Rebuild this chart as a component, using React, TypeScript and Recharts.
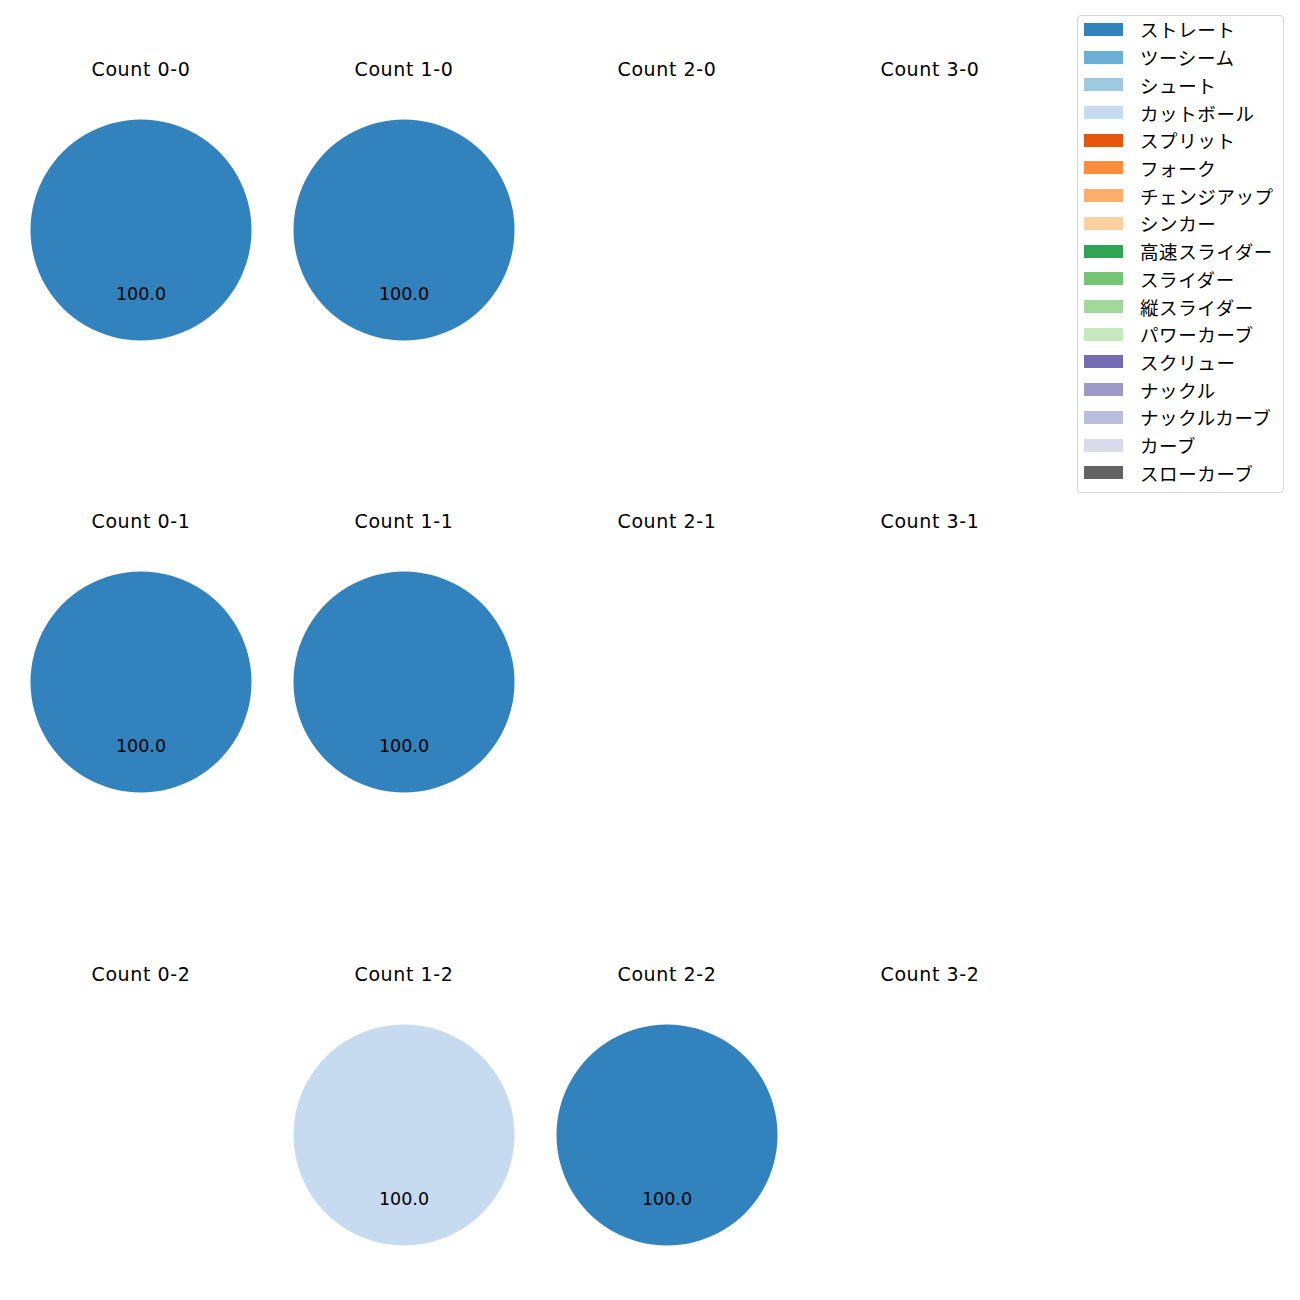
import { PieChart, Pie, Cell } from "recharts"

// pitch types in legend order, with tab20c colours
const pitchTypes = [
  "ストレート",
  "ツーシーム",
  "シュート",
  "カットボール",
  "スプリット",
  "フォーク",
  "チェンジアップ",
  "シンカー",
  "高速スライダー",
  "スライダー",
  "縦スライダー",
  "パワーカーブ",
  "スクリュー",
  "ナックル",
  "ナックルカーブ",
  "カーブ",
  "スローカーブ",
]

const pitchColors = [
  "#3182bd",
  "#6baed6",
  "#9ecae1",
  "#c6dbef",
  "#e6550d",
  "#fd8d3c",
  "#fdae6b",
  "#fdd0a2",
  "#31a354",
  "#74c476",
  "#a1d99b",
  "#c7e9c0",
  "#756bb1",
  "#9e9ac8",
  "#bcbddc",
  "#dadaeb",
  "#636363",
]

// counts (balls-strikes), row by row
const countLabels = [
  "0-0", "1-0", "2-0", "3-0",
  "0-1", "1-1", "2-1", "3-1",
  "0-2", "1-2", "2-2", "3-2",
]

// pitches thrown per count (only the types that appear)
const straightCounts = [1, 1, 0, 0, 1, 1, 0, 0, 0, 0, 1, 0]
const cutterCounts = [0, 0, 0, 0, 0, 0, 0, 0, 0, 1, 0, 0]

const pitchCountsByType: Record<string, number[]> = {
  ストレート: straightCounts,
  カットボール: cutterCounts,
}

const colCenters = [141, 404, 667, 930]
const rowCenters = [230, 682, 1135]
const radius = 110.5
const box = 240
const latinFont = "'DejaVu Sans', 'Noto Sans CJK JP', sans-serif"
const jpFont = "'Noto Sans CJK JP', 'Noto Sans', sans-serif"

function cellData(index: number) {
  return pitchTypes
    .map((name, i) => ({
      name,
      value: pitchCountsByType[name]?.[index] ?? 0,
      color: pitchColors[i],
    }))
    .filter((d) => d.value > 0)
}

const renderLabel = (props: any) => {
  const { cx, cy, midAngle, outerRadius, percent } = props
  const RAD = Math.PI / 180
  const r = outerRadius * 0.6
  const x = cx + r * Math.cos(-midAngle * RAD)
  const y = cy + r * Math.sin(-midAngle * RAD)
  return (
    <text
      x={x}
      y={y - 2}
      textAnchor="middle"
      dominantBaseline="central"
      fill="#000"
      fontSize={17.5}
      fontFamily={latinFont}
    >
      {(percent * 100).toFixed(1)}
    </text>
  )
}

export default function App() {
  return (
    <div
      style={{
        position: "absolute",
        left: 0,
        top: 0,
        width: 1300,
        height: 1300,
        background: "#fff",
      }}
    >
      {countLabels.map((label, i) => {
        const cx = colCenters[i % 4]
        const cy = rowCenters[Math.floor(i / 4)]
        const data = cellData(i)
        return (
          <div key={label}>
            <div
              style={{
                position: "absolute",
                left: cx - 100,
                top: cy - 174,
                width: 200,
                textAlign: "center",
                fontFamily: latinFont,
                fontSize: 19,
                letterSpacing: 0.6,
                lineHeight: "26px",
                color: "#000",
              }}
            >
              Count {label}
            </div>
            <div
              style={{
                position: "absolute",
                left: cx - box / 2,
                top: cy - box / 2,
              }}
            >
              <PieChart width={box} height={box} margin={{ top: 0, right: 0, bottom: 0, left: 0 }}>
                {data.length > 0 && (
                  <Pie
                    data={data}
                    dataKey="value"
                    nameKey="name"
                    cx={box / 2}
                    cy={box / 2}
                    outerRadius={radius}
                    startAngle={90}
                    endAngle={-270}
                    stroke="none"
                    label={renderLabel}
                    labelLine={false}
                    isAnimationActive={false}
                  >
                    {data.map((d) => (
                      <Cell key={d.name} fill={d.color} />
                    ))}
                  </Pie>
                )}
              </PieChart>
            </div>
          </div>
        )
      })}

      <div
        style={{
          position: "absolute",
          left: 1077,
          top: 15,
          width: 207,
          height: 478,
          border: "1px solid #d6d6d6",
          borderRadius: 4,
          boxSizing: "border-box",
          fontFamily: jpFont,
        }}
      >
        {pitchTypes.map((name, i) => (
          <div
            key={name}
            style={{
              position: "absolute",
              left: 0,
              top: -0.5 + i * 27.72,
              height: 27.72,
              display: "flex",
              alignItems: "center",
            }}
          >
            <div
              style={{
                marginLeft: 6,
                width: 39,
                height: 13,
                background: pitchColors[i],
              }}
            />
            <div
              style={{
                marginLeft: 17,
                fontSize: 18.5,
                letterSpacing: 0.6,
                color: "#000",
                whiteSpace: "nowrap",
              }}
            >
              {name}
            </div>
          </div>
        ))}
      </div>
    </div>
  )
}
